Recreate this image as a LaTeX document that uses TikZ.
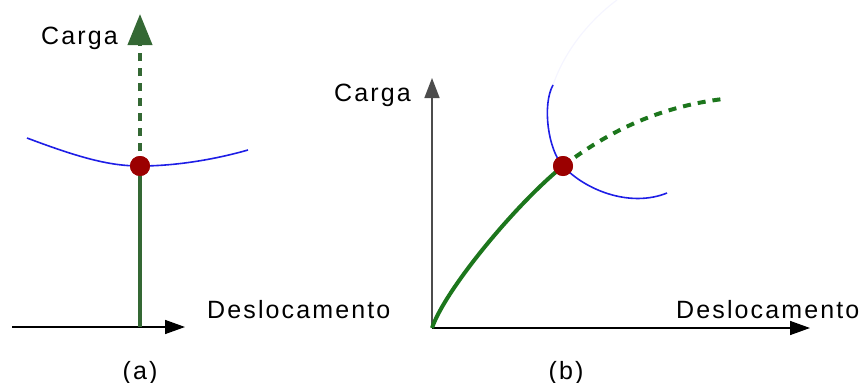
\documentclass[tikz,border=0pt]{standalone}
\usepackage{fontspec}
\setmainfont{Liberation Sans}[LetterSpace=8.5]
\usetikzlibrary{arrows.meta}
\definecolor{gA}{RGB}{52,104,52}
\definecolor{gB}{RGB}{28,118,28}
\definecolor{dotred}{RGB}{155,0,0}
\definecolor{arcblue}{RGB}{30,30,230}
\tikzset{
  axisline/.style={line width=1.5pt, black, -{Triangle[length=20pt,width=14pt]}},
  loadsolid/.style={line width=4.5pt},
  loaddash/.style={line width=4pt, dash pattern=on 8pt off 7pt},
  bluearc/.style={line width=1.6pt, arcblue},
  redpt/.style={circle, fill=dotred, inner sep=0pt, minimum size=20pt},
  lbl/.style={font=\fontsize{25}{28}\selectfont, inner sep=0pt, anchor=base west},
  captxt/.style={font=\fontsize{25}{28}\selectfont, inner sep=0pt, anchor=base}
}
\begin{document}
\begin{tikzpicture}[x=1pt,y=-1pt]
\useasboundingbox (0,0) rectangle (863,383);
% ---------- (a) ----------
\coordinate (a0) at (12,327);
\coordinate (a1) at (185,327);
\coordinate (abase) at (140,327);
\coordinate (atop) at (140,14);
\coordinate (aL) at (27,138);
\coordinate (aR) at (248,150);
\node[redpt] (adot) at (140,166) {};
\draw[axisline] (a0) -- (a1);
\draw[loadsolid, gA] (abase) -- (adot.center);
\draw[loaddash, gA, -{Triangle[length=31pt,width=24pt]}] (adot.center) -- (atop);
\draw[bluearc] (aL) .. controls (80,158) and (110,166) .. (adot.center)
  .. controls (180,166) and (220,158) .. (aR);
\node[redpt] at (adot) {};
\node[lbl] (acarga) at (41,44) {Carga};
\node[lbl] (adesl) at (207,318) {Deslocamento};
\node[captxt] (acap) at (140,379) {(a)};
% ---------- (b) ----------
\coordinate (o) at (432,328);
\coordinate (bx) at (810,328);
\coordinate (by) at (432,78);
\coordinate (bend) at (723,99);
\coordinate (btop) at (553,85);
\coordinate (bbot) at (667,193);
\coordinate (bfaint) at (617,0);
\node[redpt] (bdot) at (563,166) {};
\draw[axisline] (o) -- (bx);
\draw[line width=1.5pt, black!70, -{Triangle[length=20pt,width=15pt]}] (o) -- (by);
\draw[blue!4, line width=1.2pt] (btop) .. controls (565,50) and (590,20) .. (bfaint);
\draw[bluearc] (btop) .. controls (542,105) and (548,150) .. (bdot.center)
  .. controls (585,190) and (630,208) .. (bbot);
\draw[loadsolid, gB, line width=4pt] (o) .. controls (445,290) and (515,205) .. (bdot.center);
\draw[loaddash, gB] (bdot.center) .. controls (600,138) and (650,108) .. (bend);
\node[redpt] at (bdot) {};
\node[lbl] (bcarga) at (334,101) {Carga};
\node[lbl] (bdesl) at (676,318) {Deslocamento};
\node[captxt] (bcap) at (566,379) {(b)};
\end{tikzpicture}
\end{document}
